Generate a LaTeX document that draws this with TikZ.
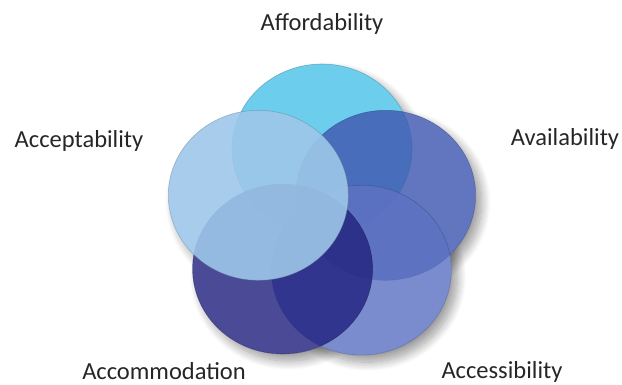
\documentclass[tikz,border=0pt]{standalone}
\usepackage{fontspec}
\setmainfont{Carlito}
\usetikzlibrary{shapes.geometric,shadows.blur}

\definecolor{affcol}{RGB}{76,194,234}
\definecolor{avacol}{RGB}{63,88,176}
\definecolor{acscol}{RGB}{93,115,194}
\definecolor{acmcol}{RGB}{35,35,127}
\definecolor{acpcol}{RGB}{158,199,234}
\definecolor{labelgray}{RGB}{38,38,38}

\begin{document}
\begin{tikzpicture}[x=1pt,y=1pt,
  disc/.style={ellipse,minimum width=180pt,minimum height=170pt,inner sep=0pt,
    fill opacity=.82,draw opacity=.45,line width=.6pt},
  softshadow/.style={blur shadow={shadow xshift=6pt,shadow yshift=-7pt,
    shadow blur steps=14,shadow blur radius=9pt,shadow opacity=40}},
  lbl/.style={font=\fontsize{24.5}{29}\selectfont,text=labelgray,anchor=base,inner sep=0pt}]
\useasboundingbox (0,0) rectangle (622,384);
\coordinate (aff) at (322.0,235.0);
\coordinate (ava) at (385.7,188.7);
\coordinate (acs) at (361.4,113.8);
\coordinate (acm) at (282.6,115.0);
\coordinate (acp) at (258.3,188.7);
\foreach \c in {aff,ava,acs,acm,acp}
  \path[softshadow] (\c) ellipse [x radius=90,y radius=85];
\foreach \c in {aff,ava,acs,acm,acp}
  \fill[white] (\c) ellipse [x radius=90,y radius=85];
\node[disc,fill=affcol,draw=affcol!60!black] (afford) at (aff) {};
\node[disc,fill=avacol,draw=avacol!60!black] (avail) at (ava) {};
\node[disc,fill=acscol,draw=acscol!60!black] (access) at (acs) {};
\node[disc,fill=acmcol,draw=acmcol!60!black] (accom) at (acm) {};
\node[disc,fill=acpcol,draw=acpcol!60!black,fill opacity=.9] (accept) at (acp) {};
\node[lbl] (affordlbl) at (322,353) {Affordability};
\node[lbl] (availlbl) at (565,239) {Availability};
\node[lbl] (accesslbl) at (502,6) {Accessibility};
\node[lbl] (accomlbl) at (164,5) {Accommodation};
\node[lbl] (acceptlbl) at (79,237) {Acceptability};
\end{tikzpicture}
\end{document}
